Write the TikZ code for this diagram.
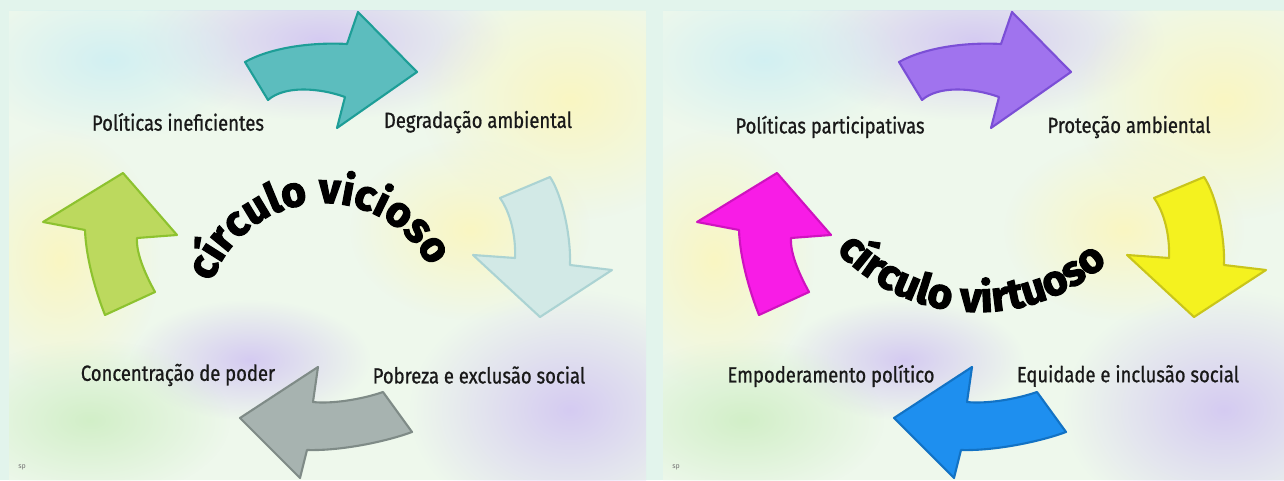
\documentclass[tikz,border=0pt]{standalone}
\usepackage{fontspec}
\setmainfont{Fira Sans}
\newfontfamily\arcfont[FakeBold=3]{Fira Sans}
\newfontfamily\labelfont[FakeBold=0.9]{Fira Sans}
\usetikzlibrary{decorations.text,fadings}

\definecolor{page}{HTML}{E2F4EC}
\definecolor{panel}{HTML}{EEF8EC}
\definecolor{lav}{HTML}{D2C6F2}
\definecolor{yel}{HTML}{FBF6BE}
\definecolor{cyn}{HTML}{CFEFF3}
\definecolor{grn}{HTML}{CFEEC4}
% left panel arrows
\definecolor{topL}{HTML}{5CBDBE}   \definecolor{topLline}{HTML}{1E9E97}
\definecolor{rightL}{HTML}{D2E9E6} \definecolor{rightLline}{HTML}{ABD3D3}
\definecolor{botL}{HTML}{A7B3B0}   \definecolor{botLline}{HTML}{7F8B87}
\definecolor{leftL}{HTML}{BCD95E}  \definecolor{leftLline}{HTML}{8DC22F}
% right panel arrows
\definecolor{topR}{HTML}{A073EE}   \definecolor{topRline}{HTML}{7B4FD6}
\definecolor{rightR}{HTML}{F4F21F} \definecolor{rightRline}{HTML}{C9C51A}
\definecolor{botR}{HTML}{1E8FEF}   \definecolor{botRline}{HTML}{1272C4}
\definecolor{leftR}{HTML}{F81CE6}  \definecolor{leftRline}{HTML}{CF12BF}

\tikzfading[name=softblob, inner color=transparent!0, outer color=transparent!100]

\begin{document}
\begin{tikzpicture}[x=0.02cm, y=0.02cm,
    txt/.style={font=\labelfont\fontsize{12.5}{14}\selectfont, xscale=0.84, text=black!90, inner sep=0pt},
    blockarrow/.style={line width=1.2pt, line join=round},
    blob/.style={path fading=softblob, fill opacity=.9},
]
\useasboundingbox (0,0) rectangle (1284,480);
\fill[page] (0,0) rectangle (1284,480);

% Panels with soft background
\foreach \dx/\w in {9/637,663/621}{
  \fill[panel] (\dx,0) rectangle ++(\w,469);
}
\foreach \dx in {0,654}{
  \begin{scope}[shift={(\dx,0)}]
    \clip (9,0) rectangle (646,469);
    \fill[blob, lav] (320,440) ellipse [x radius=190, y radius=80];
    \fill[blob, yel] (570,380) ellipse [x radius=150, y radius=120];
    \fill[blob, yel] (60,220) ellipse [x radius=100, y radius=130];
    \fill[blob, cyn] (110,420) ellipse [x radius=140, y radius=80];
    \fill[blob, lav] (570,70) ellipse [x radius=160, y radius=120];
    \fill[blob, lav] (250,120) ellipse [x radius=120, y radius=60];
    \fill[blob, grn] (90,60) ellipse [x radius=140, y radius=80];
    \fill[blob, yel] (470,250) ellipse [x radius=120, y radius=90];
  \end{scope}
}

% Curved block arrows
\foreach \dx/\p in {0/L,654/R}{
  \begin{scope}[shift={(\dx,0)}]
    \draw[blockarrow, draw=top\p line, fill=top\p] (245,418)
      .. controls (270,432) and (310,438) .. (347,436) -- (358,468) -- (417,408)
      -- (337,352) -- (345,383) .. controls (320,392) and (285,395) .. (268,380) -- cycle;
    \draw[blockarrow, draw=right\p line, fill=right\p] (500,282) -- (550,303)
      .. controls (562,285) and (571,245) .. (570,215) -- (612,210) -- (540,163)
      -- (473,225) -- (515,222) .. controls (516,245) and (510,268) .. (500,282) -- cycle;
    \draw[blockarrow, draw=bot\p line, fill=bot\p] (383,88) -- (412,48)
      .. controls (385,38) and (340,29) .. (307,30) -- (300,2) -- (240,62)
      -- (318,113) -- (313,78) .. controls (330,76) and (360,80) .. (383,88) -- cycle;
    \draw[blockarrow, draw=left\p line, fill=left\p] (123,307) -- (43,258) -- (85,250)
      .. controls (86,220) and (97,185) .. (105,165) -- (155,188)
      .. controls (144,208) and (136,228) .. (137,242) -- (177,245) -- cycle;
  \end{scope}
}

% Labels
\node[txt] (polin) at (178,358) {Políticas ineficientes};
\node[txt] (degamb) at (478,358) {Degradação ambiental};
\node[txt] (conpod) at (178,105) {Concentração de poder};
\node[txt] (pobexc) at (479,105) {Pobreza e exclusão social};
\node[txt] (polpar) at (830,353) {Políticas participativas};
\node[txt] (proamb) at (1129,353) {Proteção ambiental};
\node[txt] (empol) at (831,104) {Empoderamento político};
\node[txt] (eqinc) at (1128,104) {Equidade e inclusão social};

% Arched titles
\path[decorate, decoration={text along path, text align=center,
    text={|\arcfont\bfseries\fontsize{24}{28}\selectfont|círculo vicioso}}]
  (324,158) ++(178:119) arc[start angle=178, end angle=10, radius=119];
\path[decorate, decoration={text along path, text align=center,
    text={|\arcfont\bfseries\fontsize{24}{28}\selectfont|círculo virtuoso}}]
  (978,362) ++(205:194) arc[start angle=205, end angle=330, radius=194];

% Corner marks
\node[font=\fontsize{4}{5}\selectfont, text=black!55] (markL) at (22,13) {sp};
\node[font=\fontsize{4}{5}\selectfont, text=black!55] (markR) at (676,13) {sp};

\end{tikzpicture}
\end{document}
